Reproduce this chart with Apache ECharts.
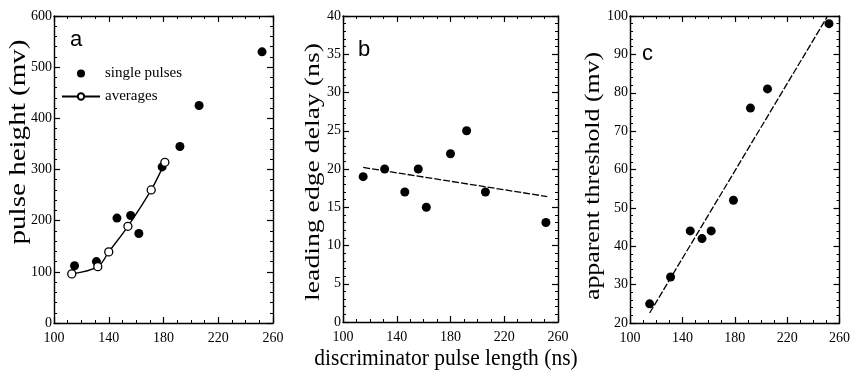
<!DOCTYPE html>
<html>
<head>
<meta charset="utf-8">
<script src="https://cdn.jsdelivr.net/npm/echarts@6/dist/echarts.min.js"></script>
<style>html,body{margin:0;padding:0;background:#fff;}#c{width:853px;height:378px;}</style>
</head>
<body>
<div id="c"></div>
<script>
// Panel a
const aSingleX = [115, 131, 146, 156, 162, 179, 192, 206, 252];
const aSingleY = [112, 120, 205, 210, 175, 305, 345, 425, 530];
const aAvgX = [113, 132, 140, 154, 171, 181];
const aAvgY = [96, 110, 139, 189, 260, 314];
// Panel b
const bX = [115, 131, 146, 156, 162, 180, 192, 206, 251];
const bY = [19, 20, 17, 20, 15, 22, 25, 17, 13];
const bFitX = [115, 252];
const bFitY = [20.2, 16.4];
// Panel c
const cX = [115, 131, 146, 155, 162, 179, 192, 205, 252];
const cY = [25, 32, 44, 42, 44, 52, 76, 81, 98];
const cFitX = [115, 251];
const cFitY = [22.6, 100];
// Axes
const xTicks = [100, 140, 180, 220, 260];
const xLabel = 'discriminator pulse length (ns)';
const yLabels = ['pulse height (mv)', 'leading edge delay (ns)', 'apparent threshold (mv)'];
const panelLetters = ['a', 'b', 'c'];
const legendNames = ['single pulses', 'averages'];

const zip = (xs, ys) => xs.map((x, i) => [x, ys[i]]);
const SERIF = '"Liberation Serif", "DejaVu Serif", serif';

const grids = [
  {left: 54, right: 580, top: 16, bottom: 55},
  {left: 343, right: 295, top: 16, bottom: 56},
  {left: 630, right: 10, top: 16, bottom: 55}
];
const yRanges = [
  {min: 0, max: 600, interval: 100},
  {min: 0, max: 40, interval: 5},
  {min: 20, max: 100, interval: 10}
];

const lineStyle = {color: '#000', width: 1.4};
function xAx(g, top) {
  return {
    type: 'value', gridIndex: g, min: xTicks[0], max: xTicks[xTicks.length - 1], interval: 40,
    position: top ? 'top' : 'bottom',
    axisLine: {show: true, onZero: false, lineStyle: lineStyle},
    axisTick: {show: true, inside: true, length: 6, lineStyle: {color: '#000', width: 1.2}},
    minorTick: {show: true, splitNumber: 4, length: 3, lineStyle: {color: '#000', width: 1}},
    splitLine: {show: false},
    axisLabel: {show: !top, color: '#000', fontFamily: SERIF, fontSize: 14, margin: 8}
  };
}
function yAx(g, right) {
  const r = yRanges[g];
  return {
    type: 'value', gridIndex: g, min: r.min, max: r.max, interval: r.interval,
    position: right ? 'right' : 'left',
    axisLine: {show: true, onZero: false, lineStyle: lineStyle},
    axisTick: {show: true, inside: true, length: 6, lineStyle: {color: '#000', width: 1.2}},
    minorTick: {show: true, splitNumber: 5, length: 3, lineStyle: {color: '#000', width: 1}},
    splitLine: {show: false},
    axisLabel: {show: !right, color: '#000', fontFamily: SERIF, fontSize: 14, margin: 2}
  };
}

const xAxes = [], yAxes = [];
for (let g = 0; g < 3; g++) {
  xAxes.push(xAx(g, false), xAx(g, true));
  yAxes.push(yAx(g, false), yAx(g, true));
}

// axis titles (the scanned figure is slightly stretched vertically)
const yTitlePos = [[19, 142], [313, 172], [593, 176]];
const yTitleSize = [24, 22, 21];
const yTitleStretch = [1.21, 1.26, 1.23];
const titles = yLabels.map((t, i) => ({
  type: 'text', x: yTitlePos[i][0], y: yTitlePos[i][1],
  rotation: Math.PI / 2, scaleX: yTitleStretch[i], scaleY: 1,
  style: {text: t, fontFamily: SERIF, fontSize: yTitleSize[i], fill: '#000',
          align: 'center', verticalAlign: 'middle'}
}));
titles.push({
  type: 'text', x: 446, y: 359, scaleX: 1, scaleY: 1.12,
  style: {text: xLabel, fontFamily: SERIF, fontSize: 21.5, fill: '#000',
          align: 'center', verticalAlign: 'middle'}
});
const letters = panelLetters.map((t, i) => ({
  type: 'text',
  left: [70, 358, 642][i], top: [29, 39, 43][i],
  style: {text: t, font: '22px "Liberation Sans", sans-serif', fill: '#000'}
}));

const dot = {color: '#000', opacity: 1};
const option = {
  animation: false,
  backgroundColor: '#fff',
  grid: grids,
  xAxis: xAxes,
  yAxis: yAxes,
  legend: {
    data: legendNames, orient: 'vertical', left: 56, top: 61,
    itemWidth: 38, itemHeight: 8, itemGap: 8,
    textStyle: {color: '#000', fontFamily: SERIF, fontSize: 15}
  },
  graphic: titles.concat(letters),
  series: [
    {name: legendNames[0], type: 'scatter', xAxisIndex: 0, yAxisIndex: 0, symbolSize: 9,
     itemStyle: dot, data: zip(aSingleX, aSingleY)},
    {name: legendNames[1], type: 'line', xAxisIndex: 0, yAxisIndex: 0, smooth: 0.35,
     symbol: 'circle', symbolSize: 8, showSymbol: true,
     lineStyle: {color: '#000', width: 1.4},
     itemStyle: {color: '#fff', borderColor: '#000', borderWidth: 1.3},
     data: zip(aAvgX, aAvgY)},
    {type: 'scatter', xAxisIndex: 2, yAxisIndex: 2, symbolSize: 9, itemStyle: dot, data: zip(bX, bY)},
    {type: 'line', xAxisIndex: 2, yAxisIndex: 2, symbol: 'none',
     lineStyle: {color: '#000', width: 1.3, type: [7, 2]}, data: zip(bFitX, bFitY)},
    {type: 'scatter', xAxisIndex: 4, yAxisIndex: 4, symbolSize: 9, itemStyle: dot, data: zip(cX, cY)},
    {type: 'line', xAxisIndex: 4, yAxisIndex: 4, symbol: 'none',
     lineStyle: {color: '#000', width: 1.3, type: [7, 2]}, data: zip(cFitX, cFitY)}
  ]
};
const chart = echarts.init(document.getElementById('c'), null, {renderer: 'canvas'});
chart.setOption(option);
</script>
</body>
</html>
